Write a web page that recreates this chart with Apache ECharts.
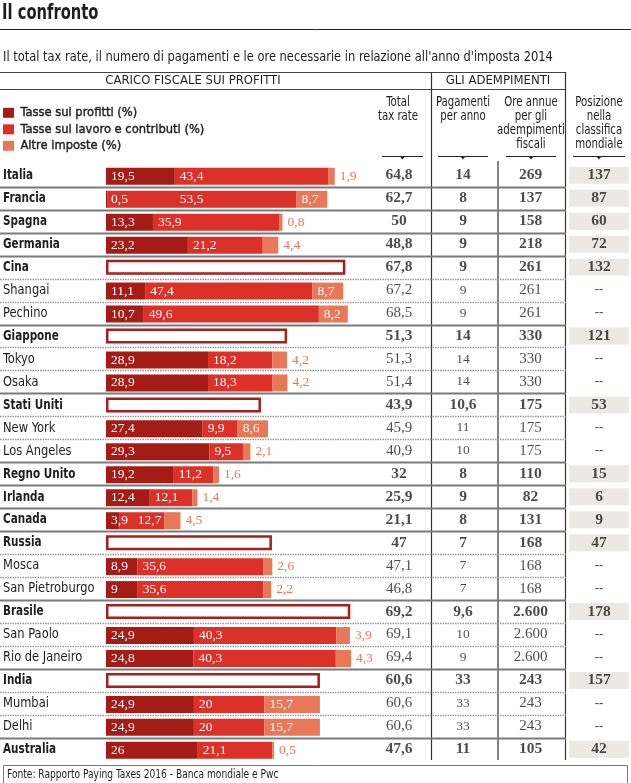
<!DOCTYPE html>
<html><head><meta charset="utf-8">
<script src="https://cdn.jsdelivr.net/npm/echarts@6/dist/echarts.min.js"></script>
<style>html,body{margin:0;padding:0;background:#fff}#c{width:631px;height:783px}</style>
</head><body><div id="c"></div>
<script>
// ---- data ----
const places = ['Italia','Francia','Spagna','Germania','Cina','Shangai','Pechino','Giappone','Tokyo','Osaka','Stati Uniti','New York','Los Angeles','Regno Unito','Irlanda','Canada','Russia','Mosca','San Pietroburgo','Brasile','San Paolo','Rio de Janeiro','India','Mumbai','Delhi','Australia'];
const isCountry = [1,1,1,1,1,0,0,1,0,0,1,0,0,1,1,1,1,0,0,1,0,0,1,0,0,1];
const profitTax = [19.5,0.5,13.3,23.2,null,11.1,10.7,null,28.9,28.9,null,27.4,29.3,19.2,12.4,3.9,null,8.9,9,null,24.9,24.8,null,24.9,24.9,26];
const labourTax = [43.4,53.5,35.9,21.2,null,47.4,49.6,null,18.2,18.3,null,9.9,9.5,11.2,12.1,12.7,null,35.6,35.6,null,40.3,40.3,null,20,20,21.1];
const otherTax  = [1.9,8.7,0.8,4.4,null,8.7,8.2,null,4.2,4.2,null,8.6,2.1,1.6,1.4,4.5,null,2.6,2.2,null,3.9,4.3,null,15.7,15.7,0.5];
const totalRate = [64.8,62.7,50,48.8,67.8,67.2,68.5,51.3,51.3,51.4,43.9,45.9,40.9,32,25.9,21.1,47,47.1,46.8,69.2,69.1,69.4,60.6,60.6,60.6,47.6];
const payments  = [14,8,9,9,9,9,9,14,14,14,10.6,11,10,8,9,8,7,7,7,9.6,10,9,33,33,33,11];
const hours     = [269,137,158,218,261,261,261,330,330,330,175,175,175,110,82,131,168,168,168,2600,2600,2600,243,243,243,105];
const worldRank = [137,87,60,72,132,null,null,121,null,null,53,null,null,15,6,9,47,null,null,178,null,null,157,null,null,42];
const seriesNames = ['Tasse sui profitti (%)','Tasse sul lavoro e contributi (%)','Altre imposte (%)'];

// ---- style ----
const SANS = "'Liberation Sans Narrow','DejaVu Sans Condensed','Roboto Condensed','Noto Sans',sans-serif";
const SERIF = "'Liberation Serif','DejaVu Serif',serif";
const C1 = '#a51c17', C2 = '#dc3128', C3 = '#e87858', INK = '#1e1e1e';
const TOP = 163.8, H = 597, BARW = 17;
// label nudges (px) for middle-segment labels that would collide with the first one
const labourLabelShift = {'Francia':67, 'Canada':13};

const fmt = v => String(v).replace('.', ',');
const fmtH = v => v >= 1000 ? String(v).replace(/(\d)(?=(\d{3})+$)/g, '$1.') : String(v);

const chart = echarts.init(document.getElementById('c'), null, {renderer:'canvas'});

function yCat(gi) {
  return {type:'category', gridIndex:gi, data:places, inverse:true, show:false};
}
function xCat(gi) { return {type:'category', gridIndex:gi, data:[''], show:false}; }

const barLabel = {show:true, position:'insideLeft', distance:5, color:'#fff',
  fontFamily:SERIF, fontSize:13.5, formatter:p => fmt(p.value)};

function colText(arr, gi, opts) {
  return {
    type:'scatter', xAxisIndex:gi, yAxisIndex:gi, silent:true,
    symbolSize:0.01, itemStyle:{color:'rgba(0,0,0,0)'},
    data: arr.map((v, i) => ({
      value:[0, i],
      label:{show:true, position:'inside', formatter:opts.f(v, i),
        fontFamily:SERIF, color:INK,
        fontWeight: isCountry[i] ? 'bold' : 'normal',
        fontSize: isCountry[i] ? opts.bs : opts.rs}
    }))
  };
}

const header = [];
function line(x1,y1,x2,y2,w,c,dash){header.push({type:'line',silent:true,shape:{x1,y1,x2,y2},style:{stroke:c||'#333',lineWidth:w||1,lineDash:dash||null}});}
function text(x,y,t,o,sx){header.push({type:'text',silent:true,x,y,scaleX:sx||1,style:Object.assign({text:t,fill:INK,font:'13px '+SANS,textAlign:'center',textVerticalAlign:'top'},o||{})});}

text(2,14,'Il confronto',{textAlign:'left',textVerticalAlign:'middle',font:'bold 21px '+SANS},0.78);
line(0,29.5,631,29.5,1,'#222');
text(3,57,"Il total tax rate, il numero di pagamenti e le ore necessarie in relazione all'anno d'imposta 2014",
  {textAlign:'left',textVerticalAlign:'middle',font:'14px '+SANS},0.91);
line(0,72.5,566,72.5,1.2,'#444');
line(0,89.5,566,89.5,1.2,'#444');
line(431.5,72,431.5,760,1.2,'#333');
line(565.5,72,565.5,760,1.2,'#333');
line(498,161,498,760,1.2,'#333');
text(193,74,'CARICO FISCALE SUI PROFITTI');
text(498,74,'GLI ADEMPIMENTI');
const hdr = {lineHeight:14, font:'13.5px '+SANS};
text(398,95,'Total\ntax rate',hdr,0.84);
text(463,95,'Pagamenti\nper anno',hdr,0.84);
text(531,95,'Ore annue\nper gli\nadempimenti\nfiscali',hdr,0.84);
text(599,95,'Posizione\nnella\nclassifica\nmondiale',hdr,0.84);
[[382,423],[438,488],[506,556],[573,625]].forEach(([a,b]) => {
  line(a,156.5,b,156.5,1,'#222');
  const cx=(a+b)/2;
  header.push({type:'polygon',silent:true,shape:{points:[[cx-2.5,156.5],[cx+2.5,156.5],[cx,159.5]]},style:{fill:'#222'}});
});
header.push({type:'rect',silent:true,shape:{x:3.5,y:765.5,width:624,height:22},style:{fill:'none',stroke:'#777',lineWidth:1}});
text(7,775,'Fonte: Rapporto Paying Taxes 2016 - Banca mondiale e Pwc',{textAlign:'left',textVerticalAlign:'middle',font:'11.5px '+SANS},0.88);

const option = {
  animation:false,
  backgroundColor:'#fff',
  legend:{data:seriesNames, orient:'vertical', left:3, top:105.8, padding:0, itemWidth:11, itemHeight:10, itemGap:2.5,
    icon:'rect', selectedMode:false,
    textStyle:{fontFamily:SANS, fontSize:12.8, color:INK, lineHeight:14, padding:[0,0,0,1.5],
      textBorderColor:INK, textBorderWidth:0.4}},
  grid:[
    {left:106, width:247.1, top:TOP, height:H},   // bars
    {left:0, width:566, top:TOP, height:H},        // row separators + row names
    {left:374, width:50, top:TOP, height:H},       // total tax rate
    {left:438, width:50, top:TOP, height:H},       // payments
    {left:505, width:51, top:TOP, height:H},       // hours
    {left:569, width:60, top:TOP, height:H}        // world rank
  ],
  xAxis:[
    {type:'value', gridIndex:0, min:0, max:70, show:false},
    {type:'value', gridIndex:1, min:0, max:1, show:false},
    xCat(2), xCat(3), xCat(4), xCat(5)
  ],
  yAxis:[yCat(0), yCat(1), yCat(2), yCat(3), yCat(4), yCat(5)],
  graphic:header,
  series:[
    {type:'custom', xAxisIndex:1, yAxisIndex:1, silent:true, z:1,
     data: places.slice(0, -1).map((p, i) => [0, i]),
     renderItem:(params, api) => {
       const i = api.value(1);
       const c = api.coord([0, i]);
       const band = api.size([0, 1])[1];
       const y = Math.round(c[1] + band / 2) + 0.5;
       const solid = isCountry[i + 1] === 1;
       const cs = params.coordSys;
       return {type:'line', shape:{x1:cs.x, y1:y, x2:cs.x + cs.width, y2:y},
         style: solid ? {stroke:'#7a7a7a', lineWidth:2} : {stroke:'#9a9a9a', lineWidth:1.5, lineDash:[1.5,1]}};
     }},
    {type:'custom', xAxisIndex:1, yAxisIndex:1, silent:true, z:3,
     data: places.map((p, i) => [0, i]),
     renderItem:(params, api) => {
       const i = api.value(1);
       const c = api.coord([0, i]);
       const b = isCountry[i] === 1;
       return {type:'text', x:params.coordSys.x + 3, y:c[1], scaleX: b ? 0.8 : 0.88,
         style:{text:places[i], fill:INK, font:(b ? 'bold ' : '') + '14.5px ' + SANS,
           textAlign:'left', textVerticalAlign:'middle'}};
     }},
    {name:seriesNames[0], type:'bar', stack:'a', barWidth:BARW, barGap:'-100%', silent:true,
     itemStyle:{color:C1}, label:barLabel, data:profitTax},
    {name:seriesNames[1], type:'bar', stack:'a', barWidth:BARW, barGap:'-100%', silent:true,
     itemStyle:{color:C2}, label:barLabel,
     data: labourTax.map((v, i) => labourLabelShift[places[i]] ? {value:v, label:{offset:[labourLabelShift[places[i]],0]}} : v)},
    {name:seriesNames[2], type:'bar', stack:'a', barWidth:BARW, barGap:'-100%', silent:true,
     itemStyle:{color:C3}, label:barLabel,
     data: otherTax.map(v => v == null ? null : (v >= 8 ? v :
       {value:v, label:{position:'right', distance:5, color:C3}}))},
    {name:'Totale paese', type:'bar', barWidth:BARW - 2, barGap:'-100%', silent:true,
     itemStyle:{color:'#fff', borderColor:'#a61f1b', borderWidth:2.5},
     data: totalRate.map((v, i) => profitTax[i] == null ? v : null)},
    colText(totalRate, 2, {f:v => fmt(v), bs:15.5, rs:15}),
    colText(payments, 3, {f:v => fmt(v), bs:15.5, rs:13.5}),
    colText(hours, 4, {f:v => fmtH(v), bs:15.5, rs:15}),
    {type:'scatter', xAxisIndex:5, yAxisIndex:5, silent:true,
     data: worldRank.map((v, i) => ({
       value:[0, i],
       symbol:'rect', symbolSize: v == null ? 0.01 : [60, 17],
       itemStyle:{color: v == null ? 'rgba(0,0,0,0)' : '#e7e4df'},
       label:{show:true, position:'inside', formatter: v == null ? '--' : String(v),
         fontFamily:SERIF, fontWeight:'bold', fontSize: v == null ? 13 : 15.5, color:INK}
     }))}
  ]
};
chart.setOption(option);
</script></body></html>
